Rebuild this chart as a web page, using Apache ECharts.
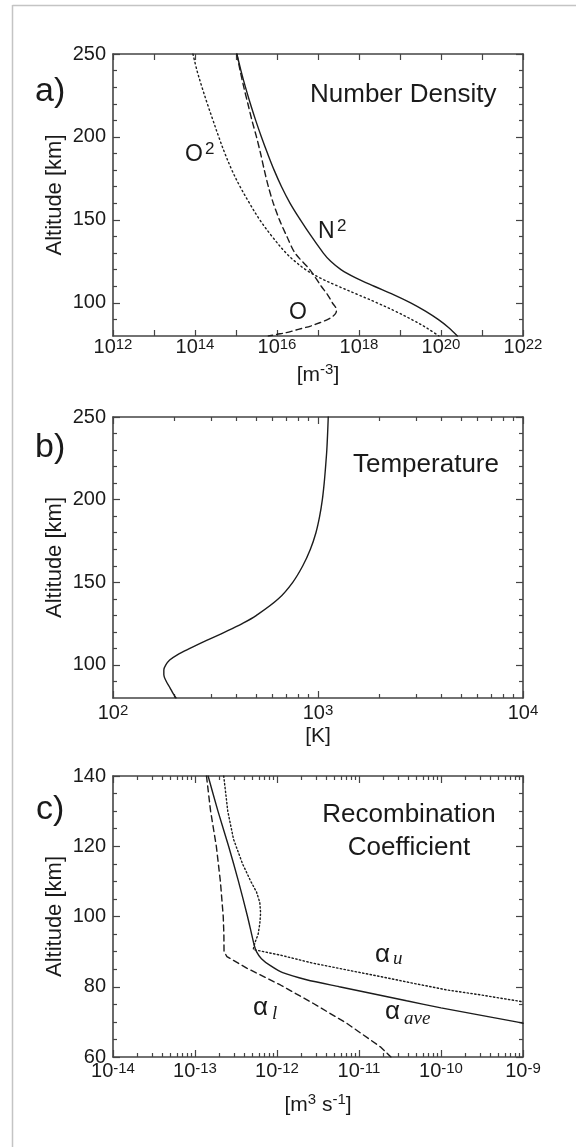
<!DOCTYPE html>
<html><head><meta charset="utf-8">
<script src="https://cdn.jsdelivr.net/npm/echarts@6/dist/echarts.min.js"></script>
<style>html,body{margin:0;padding:0;background:#fff}#c{width:576px;height:1147px}</style>
</head><body><div id="c"></div>
<script>
// ---------- Panel a: number density [m^-3] vs altitude [km] ----------
const altA = [250,240,230,220,210,200,190,180,170,160,150,140,130,125,120,115,110,105,100,95,90,85,80];
const densN2 = [1.05e15,1.32e15,1.70e15,2.24e15,3.02e15,4.17e15,5.89e15,8.51e15,1.29e16,2.09e16,3.72e16,6.92e16,1.35e17,2.04e17,3.63e17,8.32e17,2.34e18,6.92e18,1.82e19,4.17e19,8.51e19,1.55e20,2.51e20];
const densO2 = [8.91e13,1.12e14,1.48e14,2.00e14,2.75e14,3.80e14,5.37e14,7.94e14,1.26e15,2.14e15,3.80e15,7.59e15,1.66e16,2.75e16,5.01e16,1.12e17,3.09e17,9.33e17,2.75e18,7.59e18,1.91e19,4.37e19,8.91e19];
const altO = [250,240,230,220,210,200,190,180,170,160,150,140,130,120,110,105,100,96,94,92,90,88,86,84,82,81,80];
const densO = [1.05e15,1.26e15,1.55e15,1.95e15,2.45e15,3.16e15,3.98e15,4.90e15,6.17e15,8.13e15,1.15e16,1.74e16,2.75e16,6.31e16,1.20e17,1.70e17,2.24e17,2.82e17,2.75e17,2.34e17,1.74e17,1.10e17,6.61e16,3.31e16,1.66e16,1.00e16,6.17e15];

// ---------- Panel b: temperature [K] ----------
const altT = [250,240,230,220,210,200,190,180,170,160,150,140,130,125,120,115,110,106,103,100,97,94,90,86,83,80];
const tempK = [1122,1114,1104,1089,1072,1050,1019,977,918,843,753,641,501,427,353,288,237,205,189,181,177,177,182,190,196,203];

// ---------- Panel c: recombination coefficient [m^3 s^-1] ----------
const altAve = [140,130,120,110,100,95,92,90,88,86,84,82,80,78,76,74,72,70,69.6];
const alphaAve = [1.445e-13,1.905e-13,2.57e-13,3.39e-13,4.37e-13,4.90e-13,5.25e-13,5.62e-13,6.46e-13,8.32e-13,1.175e-12,2.29e-12,5.75e-12,1.48e-11,3.80e-11,1.0e-10,2.88e-10,8.32e-10,1.0e-9];
const altU = [140,130,122,115,110,107,104,101,98,95,92.5,90.6,89.0,86.7,84.8,82.9,81.0,79.1,77.7,75.7];
const alphaU = [2.24e-13,2.51e-13,2.95e-13,3.80e-13,4.79e-13,5.62e-13,6.17e-13,6.31e-13,6.17e-13,5.89e-13,5.37e-13,5.13e-13,1.10e-12,2.75e-12,7.08e-12,1.82e-11,4.57e-11,1.175e-10,3.02e-10,1.0e-9];
const altL = [140,130,120,110,100,95,90,88.6,85.3,80.5,75.3,69.6,62.9,60];
const alphaL = [1.38e-13,1.55e-13,1.82e-13,2.04e-13,2.21e-13,2.25e-13,2.26e-13,2.45e-13,4.27e-13,1.10e-12,2.75e-12,7.08e-12,1.82e-11,2.45e-11];

// ---------- ticks ----------
const xTicksA = [1e12,1e13,1e14,1e15,1e16,1e17,1e18,1e19,1e20,1e21,1e22];
const xLabelsA = [1e12,1e14,1e16,1e18,1e20,1e22];
const xTicksB = [100,1000,10000];
const xMinorB = [200,300,400,500,600,700,800,900,2000,3000,4000,5000,6000,7000,8000,9000];
const xTicksC = [1e-14,1e-13,1e-12,1e-11,1e-10,1e-9];
const xMinorC = [];
[1e-14,1e-13,1e-12,1e-11,1e-10].forEach(d => { for (let k = 2; k <= 9; k++) xMinorC.push(+(k * d).toPrecision(3)); });
const yTicksAB = [100,150,200,250];
const yMinorAB = [90,110,120,130,140,160,170,180,190,210,220,230,240];
const yTicksC = [60,80,100,120,140];
const yMinorC = [65,70,75,85,90,95,105,110,115,125,130,135];

const FONT = "'Liberation Sans', Arial, Helvetica, sans-serif";
const SERIF = "'Liberation Serif', 'Times New Roman', serif";
const INK = '#1c1c1c', AX = '#444444', TXT = '#1a1a1a';

const grids = [
  {left:113, top:54, width:410, height:282, outerBoundsMode:'none'},
  {left:113, top:417, width:410, height:281, outerBoundsMode:'none'},
  {left:113, top:776, width:410, height:281, outerBoundsMode:'none'}
];

function logLabel(v){ const e = Math.round(Math.log10(v)); return '{b|10}{s|' + e + '}'; }
const labelRich = {
  b:{fontSize:20, fontFamily:FONT, color:TXT, lineHeight:20, verticalAlign:'bottom'},
  s:{fontSize:15, fontFamily:FONT, color:TXT, lineHeight:14, padding:[0,0,10,0], verticalAlign:'top'}
};
const nameRich = {
  n:{fontSize:21, fontFamily:FONT, color:TXT, lineHeight:24, verticalAlign:'bottom'},
  s:{fontSize:15, fontFamily:FONT, color:TXT, lineHeight:14, padding:[0,0,10,0], verticalAlign:'top'}
};

const xAxes = [], yAxes = [];
function addX(g, o){
  const base = {
    type:'log', logBase:10, gridIndex:g, min:o.min, max:o.max,
    axisLine:{show:o.line, onZero:false, lineStyle:{color:AX, width:1.6}},
    axisTick:{show:true, inside:true, length:o.len, customValues:o.ticks, lineStyle:{color:AX, width:1.2}},
    axisLabel:{show:!!o.labels, customValues:o.labels || o.ticks, margin:o.margin || 0, formatter:logLabel, rich:labelRich},
    splitLine:{show:false}, minorTick:{show:false}, minorSplitLine:{show:false},
    position:o.pos, silent:true
  };
  if (o.name) Object.assign(base, {name:o.name, nameLocation:'middle', nameGap:o.nameGap, nameMoveOverlap:false, nameTextStyle:{rich:nameRich}});
  xAxes.push(base); return xAxes.length - 1;
}
function addY(g, o){
  const base = {
    type:'value', gridIndex:g, min:o.min, max:o.max, position:o.pos,
    axisLine:{show:o.line, onZero:false, lineStyle:{color:AX, width:1.6}},
    axisTick:{show:true, inside:true, length:o.len, customValues:o.ticks, lineStyle:{color:AX, width:1.2}},
    axisLabel:{show:!!o.labels, customValues:o.labels || o.ticks, margin:7, fontSize:20, fontFamily:FONT, color:TXT},
    splitLine:{show:false}, minorTick:{show:false}, silent:true
  };
  if (o.name) Object.assign(base, {name:o.name, nameLocation:'middle', nameRotate:90, nameGap:47, nameMoveOverlap:false, nameTextStyle:{fontSize:22, fontFamily:FONT, color:TXT}});
  yAxes.push(base); return yAxes.length - 1;
}

// panel a axes
const xa = addX(0,{min:1e12,max:1e22,pos:'bottom',line:true,len:6,ticks:xTicksA,labels:xLabelsA,margin:1,name:'{n|[m}{s|-3}{n|]}',nameGap:26});
addX(0,{min:1e12,max:1e22,pos:'top',line:true,len:6,ticks:xTicksA});
const ya = addY(0,{min:80,max:250,pos:'left',line:true,len:7,ticks:yTicksAB,labels:yTicksAB,name:'Altitude [km]'});
addY(0,{min:80,max:250,pos:'right',line:true,len:7,ticks:yTicksAB});
addY(0,{min:80,max:250,pos:'left',line:false,len:4,ticks:yMinorAB});
addY(0,{min:80,max:250,pos:'right',line:false,len:4,ticks:yMinorAB});
// panel b axes
const xb = addX(1,{min:100,max:10000,pos:'bottom',line:true,len:7,ticks:xTicksB,labels:xTicksB,margin:5,name:'{n|[K]}',nameGap:25});
addX(1,{min:100,max:10000,pos:'top',line:true,len:7,ticks:xTicksB});
addX(1,{min:100,max:10000,pos:'bottom',line:false,len:4,ticks:xMinorB});
addX(1,{min:100,max:10000,pos:'top',line:false,len:4,ticks:xMinorB});
const yb = addY(1,{min:80,max:250,pos:'left',line:true,len:7,ticks:yTicksAB,labels:yTicksAB,name:'Altitude [km]'});
addY(1,{min:80,max:250,pos:'right',line:true,len:7,ticks:yTicksAB});
addY(1,{min:80,max:250,pos:'left',line:false,len:4,ticks:yMinorAB});
addY(1,{min:80,max:250,pos:'right',line:false,len:4,ticks:yMinorAB});
// panel c axes
const xc = addX(2,{min:1e-14,max:1e-9,pos:'bottom',line:true,len:7,ticks:xTicksC,labels:xTicksC,margin:4,name:'{n|[m}{s|3}{n| s}{s|-1}{n|]}',nameGap:35});
addX(2,{min:1e-14,max:1e-9,pos:'top',line:true,len:7,ticks:xTicksC});
addX(2,{min:1e-14,max:1e-9,pos:'bottom',line:false,len:4,ticks:xMinorC});
addX(2,{min:1e-14,max:1e-9,pos:'top',line:false,len:4,ticks:xMinorC});
const yc = addY(2,{min:60,max:140,pos:'left',line:true,len:7,ticks:yTicksC,labels:yTicksC,name:'Altitude [km]'});
addY(2,{min:60,max:140,pos:'right',line:true,len:7,ticks:yTicksC});
addY(2,{min:60,max:140,pos:'left',line:false,len:4,ticks:yMinorC});
addY(2,{min:60,max:140,pos:'right',line:false,len:4,ticks:yMinorC});

function line(xi, yi, xs, alts, type, smooth){
  return {type:'line', xAxisIndex:xi, yAxisIndex:yi, data:alts.map((a,i)=>[xs[i], a]),
    symbol:'none', showSymbol:false, smooth:smooth, clip:true, silent:true,
    lineStyle:{color:INK, width:1.4, type:type, cap:'round'}, animation:false};
}

const series = [
  line(xa, ya, densN2, altA, 'solid', 0.35),
  line(xa, ya, densO2, altA, [1.4,3], 0.35),
  line(xa, ya, densO, altO, [6,4], 0.3),
  line(xb, yb, tempK, altT, 'solid', 0.35),
  line(xc, yc, alphaAve, altAve, 'solid', 0.25),
  line(xc, yc, alphaU, altU, [1.4,2.4], false),
  line(xc, yc, alphaL, altL, [6,4], false)
];

function txt(t, x, y, size, opts){
  opts = opts || {};
  return {type:'text', x:x, y:y, silent:true, z:10, style:{text:t, fontSize:size, fontFamily:opts.family || FONT,
    fontStyle:opts.italic ? 'italic' : 'normal', fill:TXT, align:opts.align || 'left', verticalAlign:'middle'}};
}
const graphic = [
  {type:'line', silent:true, shape:{x1:12.5, y1:5.5, x2:576, y2:5.5}, style:{stroke:'#c4c4c4', lineWidth:1.5}},
  {type:'line', silent:true, shape:{x1:12.5, y1:5, x2:12.5, y2:1147}, style:{stroke:'#c4c4c4', lineWidth:1.5}},
  txt('a)', 35, 92, 34), txt('b)', 35, 448, 34), txt('c)', 36, 810, 34),
  txt('Number Density', 310, 95, 26),
  txt('Temperature', 353, 465, 26),
  txt('Recombination', 409, 815, 26, {align:'center'}),
  txt('Coefficient', 409, 848, 26, {align:'center'}),
  txt('O', 185, 155, 23), txt('2', 205, 149, 17),
  txt('N', 318, 231.5, 23), txt('2', 337, 226, 17),
  txt('O', 289, 312.5, 23),
  txt('α', 375, 955, 26), txt('u', 393, 959, 19, {family:SERIF, italic:true}),
  txt('α', 253, 1008, 26), txt('l', 272, 1013.7, 19, {family:SERIF, italic:true}),
  txt('α', 385, 1011.5, 26), txt('ave', 404, 1019, 19, {family:SERIF, italic:true})
];

const chart = echarts.init(document.getElementById('c'), null, {renderer:'canvas', width:576, height:1147});
chart.setOption({
  backgroundColor:'#ffffff', animation:false,
  textStyle:{fontFamily:FONT},
  grid:grids, xAxis:xAxes, yAxis:yAxes, series:series, graphic:graphic
});
</script></body></html>
